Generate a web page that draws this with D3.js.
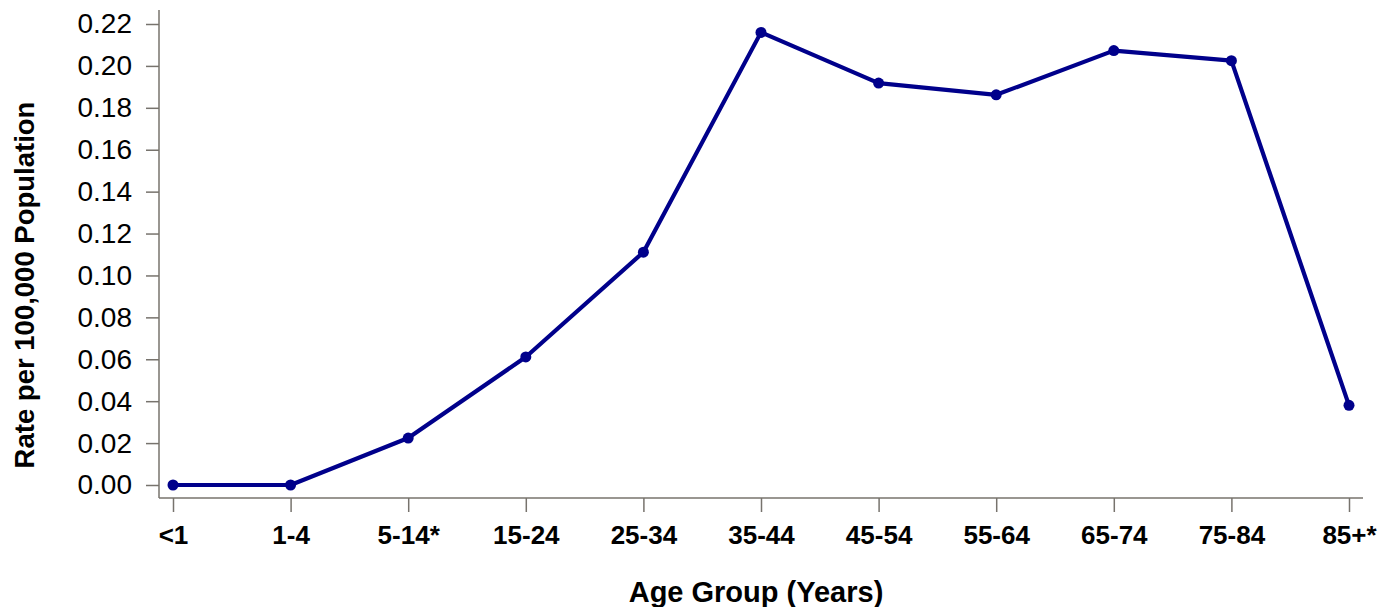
<!DOCTYPE html>
<html>
<head>
<meta charset="utf-8">
<script src="https://cdn.jsdelivr.net/npm/d3@7"></script>
<style>
  body { margin: 0; background: #fff; }
  text { font-family: "Liberation Sans", Arial, sans-serif; }
</style>
</head>
<body>
<script>
// data
let ageGroups = ["<1", "1-4", "5-14*", "15-24", "25-34", "35-44", "45-54", "55-64", "65-74", "75-84", "85+*"];
let rates = [0.000, 0.000, 0.0224, 0.0611, 0.1111, 0.2160, 0.1918, 0.1862, 0.2073, 0.2025, 0.0380];
let yTicks = [0, 0.02, 0.04, 0.06, 0.08, 0.10, 0.12, 0.14, 0.16, 0.18, 0.20, 0.22];

let width = 1392, height = 607;

let svg = d3.select("body").append("svg")
    .attr("width", width)
    .attr("height", height);

let x = d3.scalePoint()
    .domain(ageGroups)
    .range([173, 1349]);

let y = d3.scaleLinear()
    .domain([0, 0.22])
    .range([485, 24]);

let axisColor = "#77736d";

// y axis
let yAxis = svg.append("g")
    .attr("transform", "translate(159,0)")
    .call(d3.axisLeft(y).tickValues(yTicks).tickFormat(d3.format(".2f")).tickSize(13).tickPadding(14));
yAxis.select(".domain").remove();
yAxis.selectAll(".tick line").attr("stroke", axisColor).attr("stroke-width", 1.5);
yAxis.selectAll(".tick text")
    .attr("fill", "#000")
    .style("font-size", "28px");
svg.append("line")
    .attr("x1", 159).attr("x2", 159)
    .attr("y1", 10).attr("y2", 498)
    .attr("stroke", axisColor).attr("stroke-width", 1.5);

// x axis
let xAxis = svg.append("g")
    .attr("transform", "translate(0,498)")
    .call(d3.axisBottom(x).tickSize(14).tickPadding(14));
xAxis.select(".domain").remove();
xAxis.selectAll(".tick line").attr("stroke", axisColor).attr("stroke-width", 1.5);
xAxis.selectAll(".tick text")
    .attr("fill", "#000")
    .style("font-size", "26px")
    .style("font-weight", "bold");
svg.append("line")
    .attr("x1", 159).attr("x2", 1363)
    .attr("y1", 498).attr("y2", 498)
    .attr("stroke", axisColor).attr("stroke-width", 1.5);

// line + points
let line = d3.line()
    .x((d, i) => x(ageGroups[i]))
    .y(d => y(d));

svg.append("path")
    .datum(rates)
    .attr("d", line)
    .attr("fill", "none")
    .attr("stroke", "#00008b")
    .attr("stroke-width", 4.2)
    .attr("stroke-linejoin", "round");

svg.selectAll(".pt")
    .data(rates)
    .enter().append("circle")
    .attr("class", "pt")
    .attr("cx", (d, i) => x(ageGroups[i]))
    .attr("cy", d => y(d))
    .attr("r", 5.5)
    .attr("fill", "#00008b");

// axis titles
svg.append("text")
    .attr("x", 756)
    .attr("y", 602)
    .attr("text-anchor", "middle")
    .style("font-size", "29px")
    .style("font-weight", "bold")
    .text("Age Group (Years)");

svg.append("text")
    .attr("transform", "translate(34,285) rotate(-90)")
    .attr("text-anchor", "middle")
    .style("font-size", "27.5px")
    .style("font-weight", "bold")
    .text("Rate per 100,000 Population");
</script>
</body>
</html>
